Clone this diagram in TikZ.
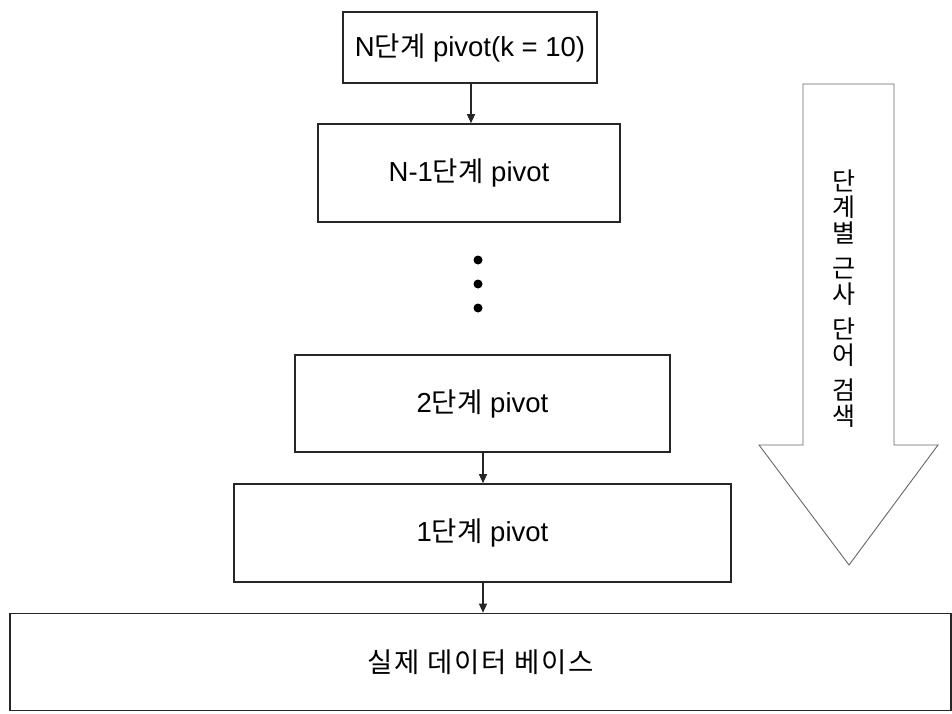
\documentclass[tikz,border=0pt]{standalone}
\usepackage{fontspec}
\setmainfont{Liberation Sans}
\newfontfamily\kr{Noto Sans CJK KR}
\newfontfamily\krwide{Noto Sans CJK KR}[LetterSpace=6]
\usetikzlibrary{arrows.meta}
\begin{document}
\begin{tikzpicture}[x=1pt,y=-1pt,
  box/.style={draw=black!85, line width=1.6pt, fill=white, inner sep=0pt,
    font=\fontsize{27.5}{30}\selectfont},
  conn/.style={draw=black!85, line width=1.2pt, -{Triangle[length=9pt,width=8pt]}},
  dotn/.style={circle, fill=black, inner sep=0pt, minimum size=9pt},
  bigarrow/.style={draw=black!60, line width=0.9pt, fill=white}]
\useasboundingbox (0,0) rectangle (952,714);
% boxes
\node[box, minimum width=254pt, minimum height=71pt] (b1) at (470,47.5) {N{\kr 단계} pivot(k = 10)};
\node[box, minimum width=302pt, minimum height=98pt] (b2) at (469,173) {N-1{\kr 단계} pivot};
\node[box, minimum width=375pt, minimum height=97pt] (b3) at (482.5,403.5) {2{\kr 단계} pivot};
\node[box, minimum width=497pt, minimum height=98pt] (b4) at (482.5,533) {1{\kr 단계} pivot};
\node[box, minimum width=941pt, minimum height=97pt] (b5) at (480.5,662) {\krwide 실제 데이터 베이스};
% dots
\node[dotn] (d1) at (478,260) {};
\node[dotn] (d2) at (478,284) {};
\node[dotn] (d3) at (478,308) {};
% connectors
\draw[conn] (b1.south -| 471,0) -- (b2.north -| 471,0);
\draw[conn] (b3.south -| 483,0) -- (b4.north -| 483,0);
\draw[conn] (b4.south -| 483,0) -- (b5.north -| 483,0);
% big arrow
\draw[bigarrow] (803,84) -- (894,84) -- (894,445) -- (938,445) -- (849,565) -- (759,445) -- (803,445) -- cycle;
\node[inner sep=0pt, align=center, font=\kr\fontsize{25}{26}\selectfont] (vt) at (843.5,298.5)
  {단\\계\\별\\[9pt]근\\사\\[9pt]단\\어\\[9pt]검\\색};
\end{tikzpicture}
\end{document}
